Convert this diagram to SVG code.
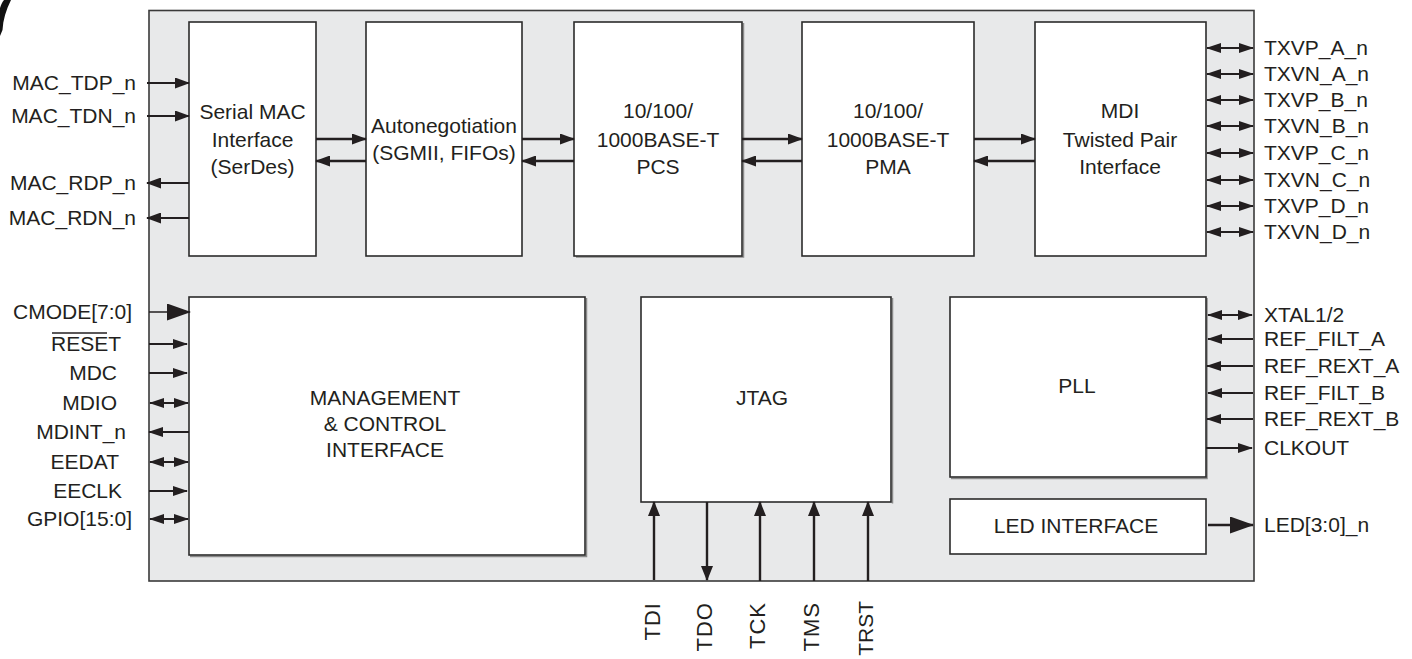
<svg xmlns="http://www.w3.org/2000/svg" width="1412" height="659" viewBox="0 0 1412 659">
<defs>
<style>
text{font-family:"Liberation Sans",Arial,sans-serif;font-size:21px;fill:#231f20}
.c{text-anchor:middle}
.e{text-anchor:end}
.blk{fill:#fff;stroke:#2b2b2b;stroke-width:1.6}
.sh{fill:none;stroke:#8a8a8a;stroke-width:1.5}
.w{stroke:#231f20;stroke-width:2.4;fill:none}
.t{stroke:#231f20;stroke-width:2;fill:none}
.f{stroke:#231f20;stroke-width:1.3;fill:none}
.a{marker-end:url(#ah)}
.p{marker-end:url(#ap)}
.pd{marker-start:url(#aps);marker-end:url(#ap)}
.b{marker-end:url(#ab)}
.v{marker-end:url(#av)}
.bt{font-size:22px;letter-spacing:1px}
</style>
<marker id="ah" markerUnits="userSpaceOnUse" markerWidth="15" markerHeight="11" refX="14" refY="5.5" orient="auto"><path d="M0,0 L15,5.5 L0,11 z" fill="#231f20"/></marker>
<marker id="ap" markerUnits="userSpaceOnUse" markerWidth="15" markerHeight="10" refX="14" refY="5" orient="auto"><path d="M0,0 L15,5 L0,10 z" fill="#231f20"/></marker>
<marker id="aps" markerUnits="userSpaceOnUse" markerWidth="15" markerHeight="10" refX="14" refY="5" orient="auto-start-reverse"><path d="M0,0 L15,5 L0,10 z" fill="#231f20"/></marker>
<marker id="ab" markerUnits="userSpaceOnUse" markerWidth="24" markerHeight="17" refX="23" refY="8.5" orient="auto"><path d="M0,0 L24,8.5 L0,17 z" fill="#231f20"/></marker>
<marker id="av" markerUnits="userSpaceOnUse" markerWidth="15" markerHeight="12" refX="14" refY="6" orient="auto"><path d="M0,0 L15,6 L0,12 z" fill="#231f20"/></marker>
</defs>
<rect width="1412" height="659" fill="#fff"/>
<path d="M4,0 L11,0 C6,10 3,20 2.5,30 L0,36 L0,8 C1,5 2,2 4,0 z" fill="#111"/>
<g id="chip"><rect x="149" y="10.5" width="1105" height="570.5" fill="#e8e9ea" stroke="#3a3a3a" stroke-width="1.6"/></g>

<g id="serial-mac"><rect class="blk" x="189" y="22" width="127" height="234"/>
<text class="c" x="252.5" y="119">Serial MAC</text><text class="c" x="252.5" y="147">Interface</text><text class="c" x="252.5" y="174">(SerDes)</text></g>
<g id="autoneg"><rect class="blk" x="366" y="22" width="156" height="234"/>
<text class="c" x="444" y="133">Autonegotiation</text><text class="c" x="444" y="160">(SGMII, FIFOs)</text></g>
<g id="pcs"><path class="sh" d="M743.5,23 V257 H576"/><rect class="blk" x="574" y="22" width="168" height="234"/>
<text class="c" x="658" y="118">10/100/</text><text class="c" x="658" y="147">1000BASE-T</text><text class="c" x="658" y="174">PCS</text></g>
<g id="pma"><rect class="blk" x="802" y="22" width="172" height="234"/>
<text class="c" x="888" y="118">10/100/</text><text class="c" x="888" y="147">1000BASE-T</text><text class="c" x="888" y="174">PMA</text></g>
<g id="mdi"><rect class="blk" x="1035" y="22" width="171" height="234"/>
<text class="c" x="1120" y="118">MDI</text><text class="c" x="1120" y="147">Twisted Pair</text><text class="c" x="1120" y="174">Interface</text></g>

<g id="mgmt"><path class="sh" d="M586.5,298 V556.5 H190"/><rect class="blk" x="189" y="297" width="396" height="258"/>
<text class="c" x="385" y="405">MANAGEMENT</text><text class="c" x="385" y="431">&amp; CONTROL</text><text class="c" x="385" y="457">INTERFACE</text></g>
<g id="jtag"><path class="sh" d="M892.5,298 V503.5"/><rect class="blk" x="641" y="297" width="250" height="205"/>
<text class="c" x="762" y="405">JTAG</text></g>
<g id="pll"><path class="sh" d="M1207,298 V478.5 H951"/><rect class="blk" x="950" y="297" width="256" height="180"/>
<text class="c" x="1077" y="393">PLL</text></g>
<g id="led"><rect class="blk" x="950" y="499" width="256" height="55"/>
<text class="c" x="1076" y="533">LED INTERFACE</text></g>

<g id="connectors">
<path class="w a" d="M316,139 H366"/><path class="w a" d="M366,161 H316"/>
<path class="w a" d="M522,139 H574"/><path class="w a" d="M574,161 H522"/>
<path class="w a" d="M742,139 H802"/><path class="w a" d="M802,161 H742"/>
<path class="w a" d="M974,139 H1035"/><path class="w a" d="M1035,161 H974"/>
<path class="t a" d="M147,83 H189"/><path class="t a" d="M147,116 H189"/>
<path class="t a" d="M189,183 H147"/><path class="t a" d="M189,218 H147"/>
<path class="t pd" d="M1207,48 H1253"/><path class="t pd" d="M1207,74 H1253"/>
<path class="t pd" d="M1207,100 H1253"/><path class="t pd" d="M1207,126 H1253"/>
<path class="t pd" d="M1207,153 H1253"/><path class="t pd" d="M1207,180 H1253"/>
<path class="t pd" d="M1207,206 H1253"/><path class="t pd" d="M1207,232 H1253"/>
<path class="t pd" d="M1208,315 H1252"/>
<path class="t p" d="M1253,339 H1208"/><path class="t p" d="M1253,366 H1207"/>
<path class="t p" d="M1253,393 H1208"/><path class="t p" d="M1253,419 H1207"/>
<path class="t p" d="M1206,448 H1252"/>
<path class="w b" d="M1208,525 H1253"/>
<path class="f b" d="M149,312 H190"/>
<path class="t p" d="M149,344 H187"/><path class="t p" d="M149,373 H187"/>
<path class="t pd" d="M150,403 H188"/><path class="t p" d="M189,432 H149"/>
<path class="t pd" d="M150,462 H188"/><path class="t p" d="M149,491 H187"/>
<path class="t pd" d="M150,519 H188"/>
<path class="w v" d="M654,580 V502"/><path class="w v" d="M707,502 V580"/>
<path class="w v" d="M760,581 V502"/><path class="w v" d="M814,581 V502"/>
<path class="w v" d="M868,581 V502"/>
</g>

<g id="labels">
<text class="e" x="136" y="90">MAC_TDP_n</text><text class="e" x="136" y="123">MAC_TDN_n</text>
<text class="e" x="136" y="190">MAC_RDP_n</text><text class="e" x="136" y="225">MAC_RDN_n</text>
<text class="e" x="132" y="319">CMODE[7:0]</text>
<text class="e" x="121" y="351">RESET</text><line x1="52" y1="333" x2="107" y2="333" stroke="#231f20" stroke-width="1.3"/>
<text class="e" x="117" y="380">MDC</text><text class="e" x="117" y="410">MDIO</text>
<text class="e" x="126" y="439">MDINT_n</text><text class="e" x="119" y="469">EEDAT</text>
<text class="e" x="122" y="498">EECLK</text><text class="e" x="132" y="526">GPIO[15:0]</text>
<text x="1264" y="55">TXVP_A_n</text><text x="1264" y="81">TXVN_A_n</text>
<text x="1264" y="107">TXVP_B_n</text><text x="1264" y="133">TXVN_B_n</text>
<text x="1264" y="160">TXVP_C_n</text><text x="1264" y="187">TXVN_C_n</text>
<text x="1264" y="213">TXVP_D_n</text><text x="1264" y="239">TXVN_D_n</text>
<text x="1264" y="322">XTAL1/2</text><text x="1264" y="346">REF_FILT_A</text>
<text x="1264" y="373">REF_REXT_A</text><text x="1264" y="400">REF_FILT_B</text>
<text x="1264" y="426">REF_REXT_B</text><text x="1264" y="455">CLKOUT</text>
<text x="1264" y="532">LED[3:0]_n</text>
<text class="e bt" transform="translate(660,602) rotate(-90)">TDI</text>
<text class="e bt" transform="translate(712,602) rotate(-90)">TDO</text>
<text class="e bt" transform="translate(765,602) rotate(-90)">TCK</text>
<text class="e bt" transform="translate(819,602) rotate(-90)">TMS</text>
<text class="e" style="font-size:21px" transform="translate(873,601) rotate(-90)">TRST</text>
</g>
</svg>
